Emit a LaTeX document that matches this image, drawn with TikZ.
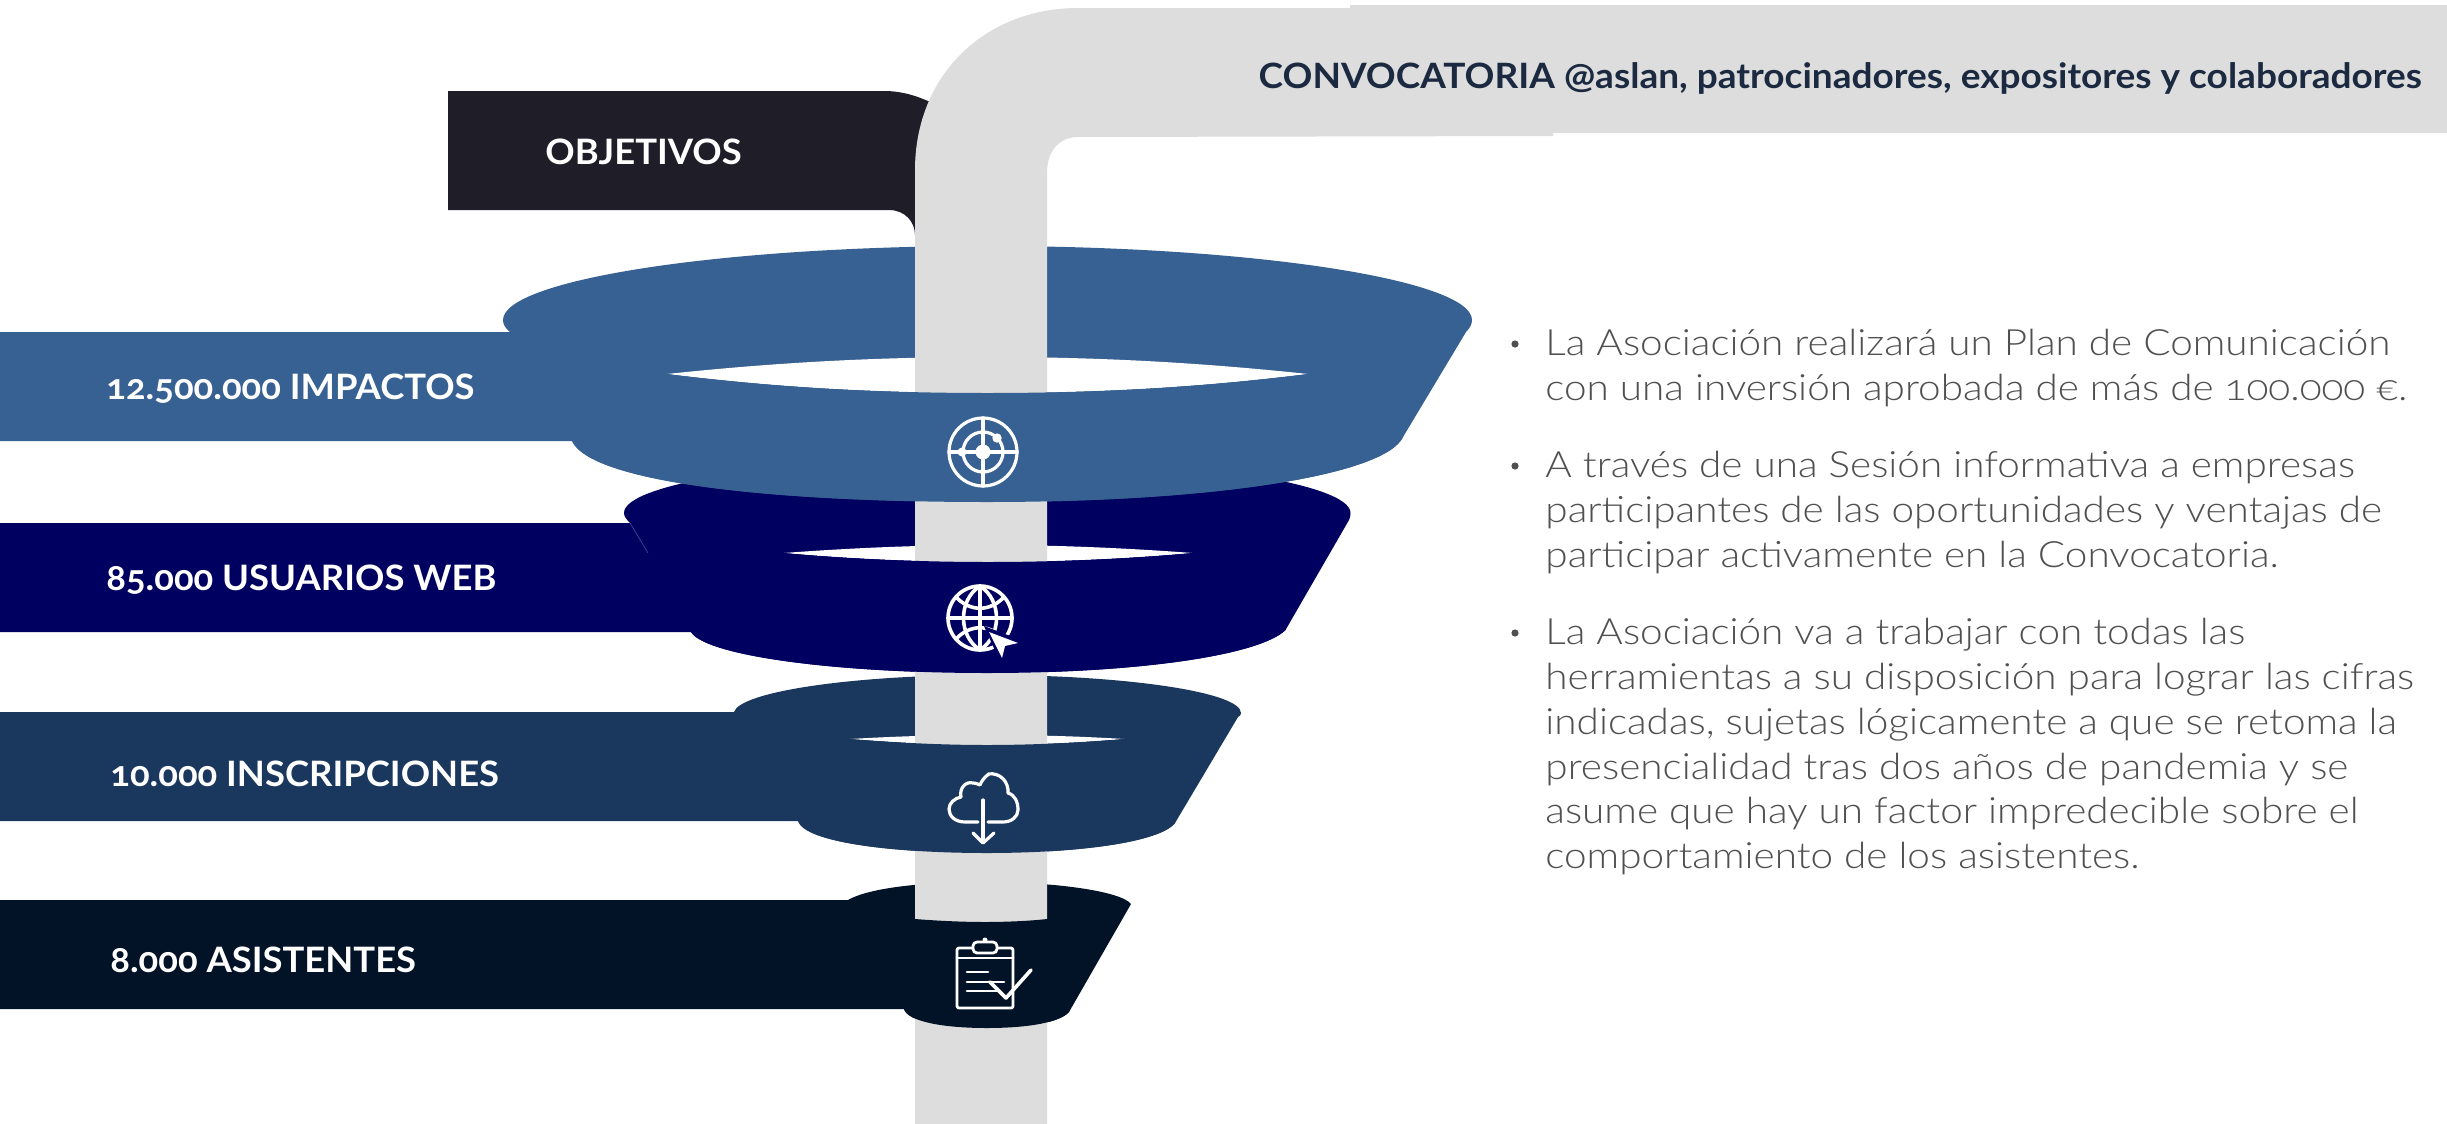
\documentclass[tikz,border=0pt]{standalone}
\usepackage{fontspec}
\setmainfont{Lato}[Numbers=OldStyle,FakeStretch=1.04]
\newfontfamily\headf{Lato}[Numbers=OldStyle,FakeStretch=1.06]
\newfontfamily\lightf{Lato Light}[Numbers=OldStyle,FakeStretch=1.118]
\definecolor{barg}{HTML}{DDDDDD}
\definecolor{objc}{HTML}{1F1D28}
\definecolor{ringa}{HTML}{376192}
\definecolor{ringb}{HTML}{000060}
\definecolor{ringc}{HTML}{1A375E}
\definecolor{ringd}{HTML}{021327}
\definecolor{headc}{HTML}{1B2A41}
\definecolor{bodyc}{HTML}{505050}
\tikzset{
  label/.style={anchor=west,text=white,font=\fontsize{17.5}{20}\selectfont\bfseries,inner sep=0pt},
  para/.style={anchor=north west,align=left,text=bodyc,inner sep=0pt,font=\fontsize{18.1}{22.4}\selectfont\lightf},
  bul/.style={circle,fill=bodyc,minimum size=3.6pt,inner sep=0pt},
  icon/.style={draw=white,line width=1.6pt,line cap=round,line join=round},
  iconfill/.style={fill=white,draw=none}
}
\begin{document}
\begin{tikzpicture}[x=0.5pt,y=-0.5pt]
\useasboundingbox (0,0) rectangle (2447,1124);
\fill[white] (0,0) rectangle (2447,1124);
% OBJETIVOS
\fill[objc] (448,91) -- (884,91) .. controls (900,91) and (918,95) .. (940,107) -- (940,240) -- (915,240) -- (915,235) .. controls (915,222) and (905,210) .. (889,210) -- (448,210) -- cycle;
% backs
\fill[ringd] (0,900) -- (848,900) .. controls (865,890) and (910,882) .. (985,882) .. controls (1060,882) and (1122,892) .. (1131,904) -- (1069,1012) .. controls (1060,1022) and (1030,1028) .. (987,1028) .. controls (945,1028) and (908,1022) .. (904,1009) -- (0,1009) -- cycle;
\fill[ringc] (0,712) -- (734,712) .. controls (740,692) and (850,675) .. (987,675) .. controls (1125,675) and (1241,692) .. (1241,713) .. controls (1241,715) and (1240,716) .. (1238,717) -- (1175,823) .. controls (1160,842) and (1080,853) .. (987,853) .. controls (890,853) and (805,842) .. (798,821) -- (0,821) -- cycle;
\fill[white] (850,739) .. controls (900,736) and (945,735) .. (987,735) .. controls (1030,735) and (1075,736) .. (1124.5,739) .. controls (1075,743) and (1030,745) .. (987,745) .. controls (945,745) and (900,743) .. cycle;
\fill[ringb] (0,523) -- (630,523) .. controls (626,519) and (624,516) .. (624,513) .. controls (624,483) and (787,458) .. (987,458) .. controls (1187,458) and (1350.5,483) .. (1350.5,513) .. controls (1350.5,516) and (1350,518) .. (1349,520) -- (1285.5,630) .. controls (1260,655) and (1140,673) .. (987,673) .. controls (830,673) and (705,655) .. (691,632) -- (0,632) -- cycle;
\fill[white] (784,553) .. controls (850,548) and (920,545) .. (988,545) .. controls (1056,545) and (1126,548) .. (1192.5,553) .. controls (1126,559) and (1056,562) .. (988,562) .. controls (920,562) and (850,559) .. cycle;
\draw[color=ringb!70!white,line width=0.3pt] (630,523) -- (648,553);
\fill[ringa] (0,332) -- (510,332) .. controls (505,328) and (503,324) .. (503,320) .. controls (503,280) and (720,246) .. (987,246) .. controls (1254,246) and (1472,280) .. (1472,320) .. controls (1472,324) and (1470,328) .. (1466,332) -- (1403,437) .. controls (1385,475) and (1215,502) .. (987,502) .. controls (755,502) and (590,480) .. (572,441) -- (0,441) -- cycle;
\fill[white] (667,374) .. controls (780,362) and (880,357) .. (987.5,357) .. controls (1095,357) and (1195,362) .. (1308,374) .. controls (1195,388) and (1095,393) .. (987.5,393) .. controls (880,393) and (780,388) .. cycle;
% grey pipe
\fill[barg] (915,1124) -- (915,170) .. controls (915,75) and (985,8) .. (1078,8) -- (1350,8) -- (1350,5) -- (2447,5) -- (2447,133) -- (1553,133) -- (1553,136) -- (1078,137) .. controls (1060,137) and (1047,150) .. (1047,173) -- (1047,1124) -- cycle;
% fronts
\fill[ringd] (860,1000) -- (860,916) -- (915,919) .. controls (940,921) and (965,922) .. (985,922) .. controls (1005,922) and (1030,921) .. (1047,919) -- (1110,916) -- (1069,1012) .. controls (1060,1022) and (1030,1028) .. (987,1028) .. controls (945,1028) and (908,1022) .. (904,1009) -- cycle;
\fill[ringc] (850,739) .. controls (900,743) and (945,745) .. (987,745) .. controls (1030,745) and (1075,743) .. (1124.5,739) -- (1190,739) -- (1175,823) .. controls (1160,842) and (1080,853) .. (987,853) .. controls (890,853) and (805,842) .. (798,821) -- (798,739) -- cycle;
\fill[ringb] (784,553) .. controls (850,559) and (920,562) .. (988,562) .. controls (1056,562) and (1126,559) .. (1192.5,553) -- (1300,553) -- (1285.5,630) .. controls (1260,655) and (1140,673) .. (987,673) .. controls (830,673) and (705,655) .. (691,632) -- (691,553) -- cycle;
\fill[ringa] (667,374) .. controls (780,388) and (880,393) .. (987.5,393) .. controls (1095,393) and (1195,388) .. (1308,374) -- (1420,374) -- (1403,437) .. controls (1385,475) and (1215,502) .. (987,502) .. controls (755,502) and (590,480) .. (572,441) -- (572,374) -- cycle;
% text on bands
\node[label] (tobj) at (545,152) {OBJETIVOS};
\node[label] (t1) at (106,389) {12.500.000 IMPACTOS};
\node[label] (t2) at (106,580) {85.000 USUARIOS WEB};
\node[label] (t3) at (110,774) {10.000 INSCRIPCIONES};
\node[label] (t4) at (110,960) {8.000 ASISTENTES};
\node[label,anchor=east,text=headc,font=\fontsize{17.45}{20}\selectfont\headf\bfseries] (thead) at (2422,78) {CONVOCATORIA @aslan, patrocinadores, expositores y colaboradores};
% paragraphs
\node[para] (p1) at (1545,329) {La Asociación realizará un Plan de Comunicación\\con una inversión aprobada de más de 100.000 €.};
\node[para] (p2) at (1545,451) {A través de una Sesión informativa a empresas\\participantes de las oportunidades y ventajas de\\participar activamente en la Convocatoria.};
\node[para] (p3) at (1545,618) {La Asociación va a trabajar con todas las\\herramientas a su disposición para lograr las cifras\\indicadas, sujetas lógicamente a que se retoma la\\presencialidad tras dos años de pandemia y se\\asume que hay un factor impredecible sobre el\\comportamiento de los asistentes.};
\node[bul] (b1) at (1515,344) {};
\node[bul] (b2) at (1515,466) {};
\node[bul] (b3) at (1515,633) {};
% target icon
\begin{scope}[icon]
\draw (983,452) circle[radius=34];
\draw (983,452) circle[radius=20];
\draw (949,452) -- (1017,452);
\draw (983,418) -- (983,486);
\end{scope}
\fill[iconfill] (983,452) circle[radius=7.5] (997,438) circle[radius=4.7] (962,452) circle[radius=4.5];
% globe icon
\begin{scope}[icon,line width=1.8pt]
\draw (980,618) circle[radius=32];
\draw (948,618) -- (1012,618);
\draw (980,586) -- (980,650);
\draw (980,586) .. controls (958,600) and (958,636) .. (980,650);
\draw (980,586) .. controls (1002,600) and (1002,636) .. (980,650);
\draw (956,597) .. controls (970,612) and (990,612) .. (1004,597);
\draw (956,639) .. controls (970,624) and (990,624) .. (1004,639);
\end{scope}
\fill[ringb] (984,626) -- (1026,642) -- (1008,650) -- (1001,664) -- cycle;
\fill[iconfill] (989,632) -- (1018,643) -- (1005,646) -- (1002,658) -- cycle;
% cloud icon
\begin{scope}[icon]
\draw (978,822) -- (965,822) .. controls (955,822) and (949,816) .. (949,809) .. controls (949,803) and (955,798) .. (961,797) .. controls (959,788) and (966,781) .. (973,783) .. controls (977,783) and (979,785) .. (980,785) .. controls (983,777) and (990,774) .. (988,774) .. controls (1000,772) and (1009,782) .. (1008,793) .. controls (1015,795) and (1018,802) .. (1018,810) .. controls (1018,817) and (1011,822) .. (1003,822) -- (988,822);
\draw (983,800) -- (983,842);
\draw (973,833) -- (983,843) -- (994,833);
\end{scope}
% clipboard icon
\begin{scope}[icon,line width=1.4pt]
\draw[rounded corners=1pt] (957,948) rectangle (1013,1008);
\draw (957,958) -- (1013,958);
\draw[fill=ringd,rounded corners=2pt] (973,942) rectangle (997,953);
\fill[white] (985,940) circle[radius=2.5];
\draw (967,972) -- (988,972);
\draw (967,982) -- (1004,982);
\draw (967,991) -- (997,991);
\draw[line width=1.8pt] (990,982) -- (1006,998) -- (1031,970);
\end{scope}
\end{tikzpicture}
\end{document}
